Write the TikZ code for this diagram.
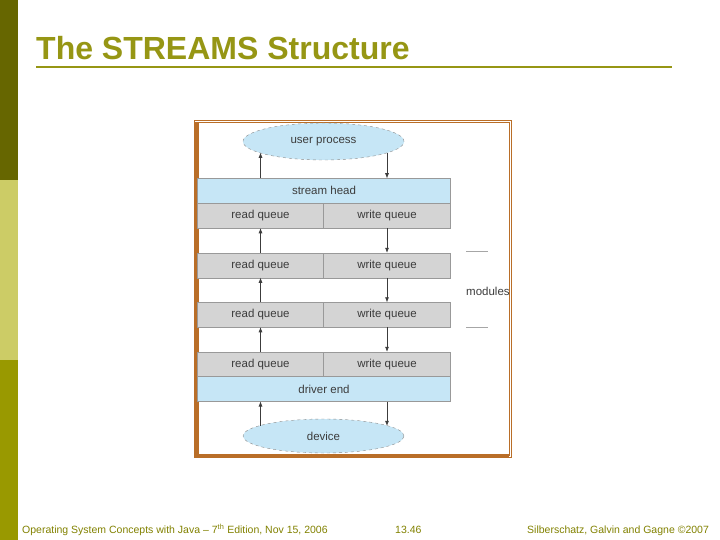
\documentclass[tikz,border=0pt]{standalone}
\usepackage{fontspec}
\setmainfont{Liberation Sans}
\usepackage{tikz}
\usetikzlibrary{positioning, arrows.meta, shapes.geometric}

\definecolor{olivedark}{RGB}{102,102,0}
\definecolor{olivelight}{RGB}{204,204,102}
\definecolor{olivemid}{RGB}{153,153,0}
\definecolor{titleolive}{RGB}{150,150,20}
\definecolor{frameorange}{RGB}{185,110,40}
\definecolor{headblue}{RGB}{198,230,246}
\definecolor{queuegray}{RGB}{212,212,212}
\definecolor{textgray}{RGB}{60,60,60}

\begin{document}
\begin{tikzpicture}[x=1pt, y=-1pt, >={Latex[length=5pt,width=4pt]}] % frecce piccole piene
    % Stili per i blocchi dello stream
    \tikzset{
        headbox/.style={
            rectangle,
            draw=gray!80,
            fill=headblue,
            minimum height=25pt,
            inner sep=0pt, outer sep=0pt,
            text=textgray,
            font=\fontsize{11.5}{13}\selectfont
        },
        queuebox/.style={
            headbox,
            fill=queuegray,
            minimum width=126pt
        },
        endpoint/.style={
            ellipse,
            draw=gray!90, dashed,
            fill=headblue,
            minimum width=161pt,
            inner sep=0pt, outer sep=0pt,
            text=textgray,
            font=\fontsize{11.5}{13}\selectfont
        },
        flow/.style={->, textgray, semithick},
        footer/.style={
            anchor=base west,
            inner sep=0pt,
            text=olivemid!85!black,
            font=\fontsize{10.5}{12}\selectfont
        }
    }

    % Area della pagina
    \useasboundingbox (0,0) rectangle (720,540);
    \fill[white] (0,0) rectangle (720,540);

    % --- Barra laterale ---
    \fill[olivedark]  (0,0)   rectangle (18,180);
    \fill[olivelight] (0,180) rectangle (18,360);
    \fill[olivemid]   (0,360) rectangle (18,540);

    % --- Titolo ---
    \node[anchor=base west, inner sep=0pt, text=titleolive,
          font=\fontsize{32}{36}\bfseries\selectfont] (title) at (36,60) {The STREAMS Structure};
    \draw[titleolive, line width=2pt] (36,67) -- (672,67);

    % --- Cornice della figura ---
    \draw[frameorange, line width=0.8pt] (194,120.5) rectangle (511,457);
    \draw[frameorange, line width=0.6pt] (196.5,122.5) rectangle (508.8,455);
    \fill[frameorange] (195,122) rectangle (198.5,456);
    \fill[frameorange] (195,453.5) rectangle (509,456.5);

    % --- Processo utente e testa dello stream ---
    \node[endpoint, minimum height=37pt] (up) at (323.5,141.5) {user process};
    \node[headbox, minimum width=253pt] (sh) at (324,190.75) {stream head};

    % --- Moduli: coda di lettura / scrittura ---
    \foreach \i/\y in {1/215.75, 2/265.25, 3/314.75, 4/364.25} {
        \node[queuebox] (rq\i) at (260.5,\y) {read queue};
        \node[queuebox, minimum width=127pt] (wq\i) at (387,\y) {write queue};
    }

    % --- Estremo del driver e dispositivo ---
    \node[headbox, minimum width=253pt] (de) at (324,389) {driver end};
    \node[endpoint, minimum height=34pt] (dev) at (323.5,436) {device};

    % Frecce tra processo utente e testa
    \draw[flow] (sh.north -| rq1) -- (rq1 |- up.190);
    \draw[flow] (up.350 -| wq1) -- (sh.north -| wq1);

    % Frecce tra i moduli
    \foreach \i/\j in {1/2, 2/3, 3/4} {
        \draw[flow] (rq\j.north) -- (rq\i.south);
        \draw[flow] (wq\i.south) -- (wq\j.north);
    }

    % Frecce tra driver e dispositivo
    \draw[flow] (rq4 |- dev.171) -- (de.south -| rq4);
    \draw[flow] (de.south -| wq4) -- (wq4 |- dev.9);

    % Etichetta dei moduli
    \draw[gray!70, thin] (466,251.5) -- (488,251.5);
    \draw[gray!70, thin] (466,327.3) -- (488,327.3);
    \node[anchor=west, inner sep=0pt, text=textgray,
          font=\fontsize{11.5}{13}\selectfont] (mods) at (466,291) {modules};

    % --- Piè di pagina ---
    \node[footer] (foot1) at (22,533) {Operating System Concepts with Java -- 7\textsuperscript{th} Edition, Nov 15, 2006};
    \node[footer] (foot2) at (395,533) {13.46};
    \node[footer] (foot3) at (527,533) {Silberschatz, Galvin and Gagne ©2007};

\end{tikzpicture}
\end{document}
